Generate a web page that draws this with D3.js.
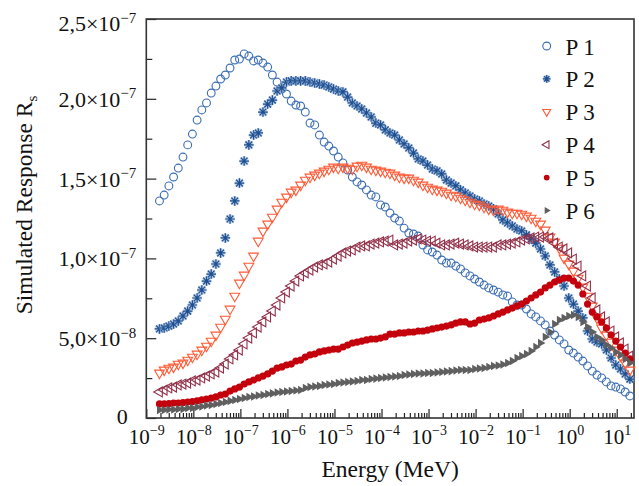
<!DOCTYPE html>
<html><head><meta charset="utf-8">
<script src="https://cdn.jsdelivr.net/npm/d3@7"></script>
<style>
body{margin:0;background:#fff}
svg{display:block}
text{fill:#111}
</style>
</head><body>
<svg id="chart" width="639" height="486"></svg>
<script>
// log10(Energy / MeV) of the sampled points
const energyExp = [
-8.72,-8.62,-8.52,-8.42,-8.32,-8.22,-8.12,-8.02,-7.92,-7.82,
-7.72,-7.62,-7.52,-7.42,-7.32,-7.22,-7.12,-7.02,-6.92,-6.82,
-6.72,-6.62,-6.52,-6.42,-6.32,-6.22,-6.12,-6.02,-5.92,-5.82,
-5.72,-5.62,-5.52,-5.42,-5.32,-5.22,-5.12,-5.02,-4.92,-4.82,
-4.72,-4.62,-4.52,-4.42,-4.32,-4.22,-4.12,-4.02,-3.92,-3.82,
-3.72,-3.62,-3.52,-3.42,-3.32,-3.22,-3.12,-3.02,-2.92,-2.82,
-2.72,-2.62,-2.52,-2.42,-2.32,-2.22,-2.12,-2.02,-1.92,-1.82,
-1.72,-1.62,-1.52,-1.42,-1.32,-1.22,-1.12,-1.02,-0.92,-0.82,
-0.72,-0.62,-0.52,-0.42,-0.32,-0.22,-0.12,-0.02,0.08,0.18,
0.28,0.38,0.48,0.58,0.68,0.78,0.88,0.98,1.08,1.18,
1.28];

// Simulated response, in units of 1e-8
const p1 = [13.60,13.97,14.54,15.10,15.66,16.35,17.11,17.79,18.67,19.30,
19.74,20.36,20.80,21.24,21.49,21.93,22.43,22.49,22.81,22.68,
22.37,22.43,22.24,21.99,21.49,21.05,20.61,20.30,19.86,19.61,
19.55,19.17,18.48,18.36,17.73,17.29,17.04,16.73,16.35,15.98,
15.54,15.10,14.79,14.60,14.29,13.97,13.85,13.35,13.22,12.84,
12.53,12.34,11.90,11.59,11.53,11.40,10.84,10.53,10.40,10.21,
9.90,9.71,9.71,9.52,9.34,9.09,8.90,8.71,8.52,8.33,
8.15,8.02,7.89,7.71,7.64,7.27,7.08,7.08,6.83,6.52,
6.33,6.08,5.83,5.45,5.20,4.89,4.64,4.26,4.07,3.82,
3.57,3.26,2.94,2.69,2.51,2.26,2.01,1.94,1.82,1.63,
1.38];
const p2 = [5.58,5.64,5.76,5.89,6.08,6.39,6.70,7.08,7.52,8.02,
8.58,9.02,9.65,10.34,11.28,12.47,13.60,14.72,16.10,17.11,
17.73,17.86,19.17,19.67,19.92,20.49,20.68,21.05,21.12,21.12,
21.12,21.12,21.05,20.99,20.93,20.86,20.74,20.61,20.49,20.43,
20.11,19.74,19.55,19.36,19.11,18.86,18.48,18.36,18.05,17.86,
17.73,17.42,17.17,16.92,16.60,16.23,16.10,15.85,15.60,15.48,
15.29,14.91,14.72,14.54,14.29,14.10,13.91,13.72,13.60,13.41,
13.28,13.10,12.78,12.41,12.22,12.03,11.84,11.72,11.47,11.22,
10.96,10.59,10.15,9.59,9.15,8.71,8.27,7.52,7.14,6.70,
6.27,5.45,4.95,4.76,4.64,4.26,3.76,3.32,3.07,2.76,
2.44];
const p3 = [2.82,3.01,3.13,3.20,3.38,3.45,3.63,3.82,4.01,4.26,
4.51,4.82,5.20,5.70,6.20,6.83,7.64,8.46,8.96,9.52,
10.15,11.09,11.72,12.16,12.59,13.10,13.53,13.85,14.16,14.29,
14.60,14.91,15.10,15.23,15.35,15.48,15.60,15.73,15.66,15.73,
15.66,15.60,15.79,15.85,15.73,15.60,15.54,15.48,15.41,15.35,
15.23,15.10,15.04,15.04,14.91,14.79,14.60,14.47,14.35,14.29,
14.22,14.10,13.97,13.91,13.78,13.66,13.53,13.41,13.35,13.22,
13.10,13.03,13.10,13.03,12.91,12.84,12.84,12.78,12.66,12.53,
12.34,12.16,11.78,11.34,11.03,10.65,10.03,9.65,9.21,8.77,
8.21,7.64,7.02,6.27,5.64,5.20,4.76,4.26,3.88,3.45,
3.01];
const p4 = [1.63,1.75,1.88,1.94,2.07,2.13,2.19,2.32,2.38,2.51,
2.63,2.76,2.88,3.13,3.38,3.70,3.95,4.26,4.64,5.01,
5.33,5.70,6.02,6.33,6.70,7.08,7.52,7.89,8.27,8.58,
8.90,9.09,9.27,9.46,9.59,9.65,9.77,9.96,10.15,10.34,
10.46,10.53,10.71,10.78,10.78,10.90,10.96,11.03,11.09,11.15,
10.84,10.90,10.96,11.09,11.15,11.22,11.15,11.09,11.09,10.96,
10.84,10.84,10.90,10.96,10.90,10.84,10.78,10.71,10.71,10.71,
10.71,10.71,10.84,10.84,10.90,10.96,11.03,11.15,11.22,11.28,
11.34,11.34,11.34,11.28,10.96,10.71,10.59,10.34,9.96,9.52,
8.90,8.27,7.52,6.77,6.33,6.02,5.45,5.08,4.70,4.32,
3.88];
const p5 = [0.88,0.88,0.91,0.94,0.94,0.97,1.00,1.03,1.07,1.13,
1.19,1.25,1.32,1.44,1.50,1.69,1.82,1.94,2.13,2.26,
2.38,2.51,2.63,2.76,2.94,3.13,3.20,3.32,3.38,3.57,
3.63,3.82,3.95,4.01,4.14,4.20,4.26,4.32,4.32,4.45,
4.57,4.70,4.76,4.82,4.89,4.95,4.95,5.01,5.08,5.26,
5.26,5.33,5.33,5.39,5.39,5.45,5.45,5.51,5.58,5.64,
5.70,5.76,5.83,5.95,6.02,6.02,5.89,5.95,6.14,6.20,
6.27,6.39,6.52,6.64,6.77,6.89,7.02,7.14,7.33,7.52,
7.71,7.89,8.15,8.33,8.52,8.65,8.77,8.77,8.58,8.33,
7.77,7.14,6.64,6.33,6.02,5.64,5.20,4.82,4.45,4.07,
3.70];
const p6 = [0.50,0.50,0.53,0.53,0.56,0.56,0.63,0.63,0.69,0.72,
0.78,0.81,0.88,0.94,1.00,1.07,1.13,1.19,1.25,1.32,
1.35,1.41,1.44,1.50,1.54,1.60,1.63,1.66,1.69,1.72,
1.75,1.88,1.94,1.97,2.01,2.07,2.10,2.13,2.19,2.22,
2.26,2.29,2.32,2.38,2.38,2.44,2.47,2.51,2.54,2.57,
2.60,2.63,2.69,2.73,2.76,2.79,2.79,2.82,2.82,2.85,
2.88,2.91,2.94,2.98,3.01,3.01,3.01,3.07,3.10,3.13,
3.20,3.26,3.29,3.35,3.45,3.57,3.76,3.88,4.01,4.20,
4.45,4.70,5.08,5.39,5.89,6.14,6.27,6.39,6.45,6.33,
6.02,5.70,5.39,5.08,4.89,4.57,4.39,4.14,3.95,3.70,
3.45];
const UNIT = 1e-8;

const seriesNames = ["P 1","P 2","P 3","P 4","P 5","P 6"];
const yTickValues = [0, 5e-8, 1e-7, 1.5e-7, 2e-7, 2.5e-7];
const yTickMantissa = ["0","5,0","1,0","1,5","2,0","2,5"];
const yTickExponent = ["","−8","−7","−7","−7","−7"];
const xTickExponent = [-9,-8,-7,-6,-5,-4,-3,-2,-1,0,1];

const L = 146.3, R = 634, T = 19, B = 418;

const svg = d3.select("#chart");

// pick an installed Times-like serif face (compare widths against monospace fallback)
function pickFont(cands) {
  const probe = svg.append("text").attr("font-size", 40).text("Simulated Response 0123 MeVg");
  probe.attr("font-family", "monospace");
  const base = probe.node().getComputedTextLength();
  let found = null;
  for (const f of cands) {
    probe.attr("font-family", `"${f}", monospace`);
    if (Math.abs(probe.node().getComputedTextLength() - base) > 0.5) { found = f; break; }
  }
  probe.remove();
  return found ? `"${found}", serif` : "serif";
}
const FONT = pickFont(["Liberation Serif", "Times New Roman", "Tinos", "Nimbus Roman", "FreeSerif", "Noto Serif", "DejaVu Serif"]);
svg.style("font-family", FONT);

const x = d3.scaleLog().domain([1e-9, 23.3]).range([L, R]);
const y = d3.scaleLinear().domain([0, 2.5e-7]).range([B, T]);

// ----- axes (ticks inward) -----
const xMajor = xTickExponent.map(e => Math.pow(10, e));
const xMinor = [];
xTickExponent.forEach(e => { for (let m = 2; m <= 9; m++) { const v = m * Math.pow(10, e); if (v < 23.3) xMinor.push(v); } });

const gxMinor = svg.append("g").attr("transform", `translate(0,${B})`)
  .call(d3.axisBottom(x).tickValues(xMinor).tickSizeInner(-5).tickSizeOuter(0).tickFormat(""));
const gx = svg.append("g").attr("transform", `translate(0,${B})`)
  .call(d3.axisBottom(x).tickValues(xMajor).tickSizeInner(-9).tickSizeOuter(0));
gx.attr("font-family", null).attr("font-size", null);
gx.selectAll(".tick text").each(function(d, i) {
  const t = d3.select(this);
  t.text(null).attr("y", 25.5).attr("dy", null).style("font-size", "21px").attr("fill", "#111");
  t.append("tspan").text("10");
  t.append("tspan").style("font-size", "14px").attr("dy", -8.5)
    .text(xTickExponent[i] < 0 ? "−" + (-xTickExponent[i]) : String(xTickExponent[i]));
});

const yMinor = [2.5e-8, 7.5e-8, 1.25e-7, 1.75e-7, 2.25e-7];
const gyMinor = svg.append("g").attr("transform", `translate(${L},0)`)
  .call(d3.axisLeft(y).tickValues(yMinor).tickSizeInner(-6).tickSizeOuter(0).tickFormat(""));
const gy = svg.append("g").attr("transform", `translate(${L},0)`)
  .call(d3.axisLeft(y).tickValues(yTickValues).tickSizeInner(-10).tickSizeOuter(0));
gy.attr("font-family", null).attr("font-size", null);
gy.selectAll(".tick text").each(function(d, i) {
  const t = d3.select(this);
  const top = i === yTickValues.length - 1;
  const zero = i === 0;
  t.text(null).attr("x", zero ? -18.5 : -10).attr("dy", top ? 11.5 : (zero ? 5.5 : 7.5)).style("font-size", "22px")
    .attr("text-anchor", "end").attr("fill", "#111");
  if (yTickExponent[i] === "") { t.append("tspan").text(yTickMantissa[i]); return; }
  t.append("tspan").text(yTickMantissa[i] + "×10");
  t.append("tspan").style("font-size", "15px").attr("dy", -8.5).text(yTickExponent[i]);
});

[gx, gxMinor, gy, gyMinor].forEach(g => {
  g.select(".domain").remove();
  g.selectAll(".tick line").attr("stroke", "#222").attr("stroke-width", 1.2);
});

// frame
svg.append("rect").attr("x", L).attr("y", T).attr("width", R - L).attr("height", B - T)
  .attr("fill", "none").attr("stroke", "#333").attr("stroke-width", 1.6);

// ----- marker shapes -----
const triPath = d3.symbol().type(d3.symbolTriangle);
function drawMarker(g, k, scale) {
  const s = scale || 1;
  if (k === 0) {
    g.append("circle").attr("r", 3.9 * s).attr("fill", "none").attr("stroke", "#3b6db3").attr("stroke-width", 1.1);
  } else if (k === 1) {
    const a = 4.8 * s, b = a * 0.7071;
    const d = `M${-a},0L${a},0M0,${-a}L0,${a}M${-b},${-b}L${b},${b}M${-b},${b}L${b},${-b}`;
    g.append("path").attr("d", d).attr("stroke", "#9ab6dc").attr("stroke-width", 2.8).attr("fill", "none").attr("opacity", 0.75);
    g.append("path").attr("d", d).attr("stroke", "#1e4f8f").attr("stroke-width", 1.2).attr("fill", "none");
  } else if (k === 2) {
    g.append("path").attr("d", triPath.size(42 * s * s)()).attr("transform", "rotate(180)")
      .attr("fill", "none").attr("stroke", "#ff5a36").attr("stroke-width", 1.1);
  } else if (k === 3) {
    g.append("path").attr("d", triPath.size(42 * s * s)()).attr("transform", "rotate(-90)")
      .attr("fill", "none").attr("stroke", "#923049").attr("stroke-width", 1.1);
  } else if (k === 4) {
    g.append("circle").attr("r", 3.6 * s).attr("fill", "#c3000c");
  } else {
    g.append("path").attr("d", triPath.size(32 * s * s)()).attr("transform", "rotate(90)")
      .attr("fill", "#5f5f5f");
  }
}

const seriesData = [p1, p2, p3, p4, p5, p6];
const plot = svg.append("g");
seriesData.forEach((vals, k) => {
  const pts = vals.map((v, i) => ({ e: Math.pow(10, energyExp[i]), v: v * UNIT }));
  plot.append("g").selectAll("g").data(pts).join("g")
    .attr("transform", d => `translate(${x(d.e)},${y(d.v)})`)
    .each(function() { drawMarker(d3.select(this), k, 1); });
});

// ----- legend -----
const legend = svg.append("g");
seriesNames.forEach((name, k) => {
  const cy = 46 + k * 32.9;
  const g = legend.append("g").attr("transform", `translate(546.7,${cy})`);
  drawMarker(g, k, k === 0 ? 1 : 0.8);
  legend.append("text").attr("x", 565.5).attr("y", cy + 8.5).style("font-size", "23px").text(name);
});

// ----- axis titles -----
svg.append("text").attr("x", (L + R) / 2).attr("y", 477).attr("text-anchor", "middle")
  .style("font-size", "23.5px").text("Energy (MeV)");
const yt = svg.append("text").attr("transform", "translate(32,205) rotate(-90)")
  .attr("text-anchor", "middle").style("font-size", "23.5px");
yt.append("tspan").text("Simulated Response R");
yt.append("tspan").style("font-size", "15px").attr("dy", 5).text("s");
</script>
</body></html>
